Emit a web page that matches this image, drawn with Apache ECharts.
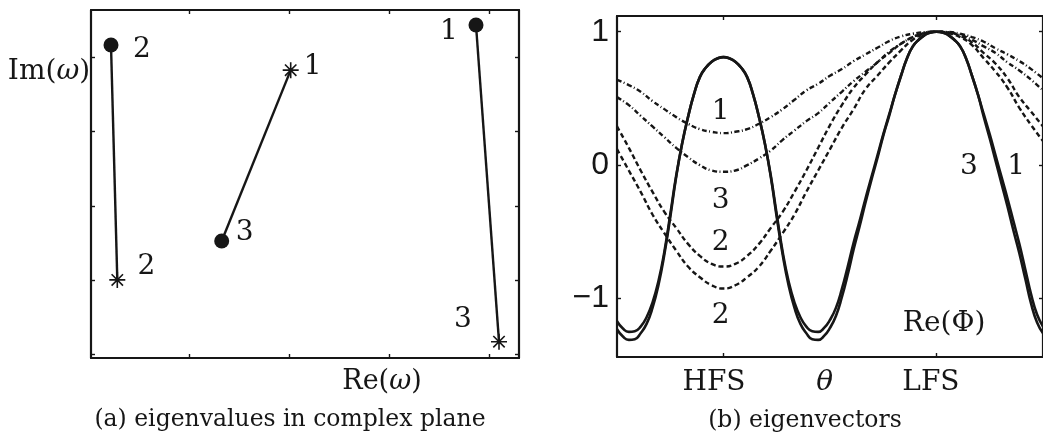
<!DOCTYPE html>
<html>
<head>
<meta charset="utf-8">
<script src="https://cdn.jsdelivr.net/npm/echarts@6/dist/echarts.min.js"></script>
<style>
html, body { margin: 0; padding: 0; background: #fff; }
#chart { width: 1043px; height: 435px; }
</style>
</head>
<body>
<div id="chart"></div>
<script>
// (a) eigenvalues in the complex plane
const circleRe = [3.87, 0.22, 1.327];
const circleIm = [4.44, 4.17, 1.525];
const starRe = [2.017, 0.283, 4.10];
const starIm = [3.83, 1.0, 0.166];
const circleNames = ['1', '2', '3'];
const starNames = ['1', '2', '3'];
const pairStar = [2, 1, 0];          // circle i is joined to star pairStar[i]
const reTicks = [1, 2, 3, 4];
const imTicks = [0, 1, 2, 3, 4];

// (b) eigenvectors, theta in degrees (LFS = 0, HFS = -180)
const theta = [-270, -260, -250, -240, -230, -220, -210, -200, -190, -180,
  -170, -160, -150, -140, -130, -120, -110, -100, -90, -80,
  -70, -60, -50, -40, -30, -20, -10, 0, 10, 20,
  30, 40, 50, 60, 70, 80, 90];
const thetaFine = [-270, -265, -260, -255, -250, -245, -240, -235, -230, -225,
  -220, -215, -210, -205, -200, -195, -190, -185, -180, -175,
  -170, -165, -160, -155, -150, -145, -140, -135, -130, -125,
  -120, -115, -110, -105, -100, -95, -90, -85, -80, -75,
  -70, -65, -60, -55, -50, -45, -40, -35, -30, -25,
  -20, -15, -10, -5, 0, 5, 10, 15, 20, 25,
  30, 35, 40, 45, 50, 55, 60, 65, 70, 75,
  80, 85, 90];
const solidInner = [-1.17, -1.225, -1.25, -1.245, -1.21, -1.14, -1.03, -0.87, -0.65, -0.37,
  -0.08, 0.16, 0.36, 0.53, 0.66, 0.73, 0.775, 0.80, 0.81, 0.80,
  0.775, 0.73, 0.66, 0.53, 0.36, 0.16, -0.08, -0.37, -0.65, -0.87,
  -1.03, -1.14, -1.21, -1.245, -1.25, -1.22, -1.16, -1.07, -0.93, -0.76,
  -0.58, -0.42, -0.25, -0.09, 0.07, 0.23, 0.38, 0.53, 0.67, 0.80,
  0.89, 0.94, 0.975, 0.995, 1.0, 0.995, 0.975, 0.94, 0.89, 0.80,
  0.67, 0.53, 0.38, 0.23, 0.07, -0.09, -0.25, -0.42, -0.59, -0.78,
  -0.97, -1.12, -1.21];
const solidOuter = [-1.23, -1.285, -1.31, -1.305, -1.26, -1.19, -1.07, -0.90, -0.67, -0.39,
  -0.09, 0.16, 0.36, 0.53, 0.66, 0.73, 0.775, 0.80, 0.81, 0.80,
  0.775, 0.73, 0.66, 0.53, 0.36, 0.16, -0.09, -0.39, -0.67, -0.90,
  -1.07, -1.19, -1.26, -1.305, -1.31, -1.28, -1.22, -1.13, -0.99, -0.82,
  -0.63, -0.46, -0.28, -0.11, 0.05, 0.22, 0.37, 0.53, 0.67, 0.80,
  0.89, 0.94, 0.975, 0.995, 1.0, 0.995, 0.975, 0.94, 0.89, 0.80,
  0.67, 0.53, 0.36, 0.20, 0.03, -0.14, -0.31, -0.49, -0.66, -0.85,
  -1.04, -1.18, -1.26];
const mode1 = [0.64, 0.60, 0.55, 0.48, 0.42, 0.36, 0.31, 0.27, 0.25, 0.24,
  0.25, 0.27, 0.31, 0.36, 0.42, 0.49, 0.56, 0.61, 0.67, 0.72,
  0.78, 0.83, 0.88, 0.93, 0.965, 0.985, 0.997, 1.0, 0.998, 0.985,
  0.96, 0.925, 0.875, 0.83, 0.78, 0.72, 0.65];
const mode3 = [0.51, 0.45, 0.37, 0.29, 0.21, 0.13, 0.06, 0.0, -0.04, -0.05,
  -0.04, 0.0, 0.05, 0.11, 0.19, 0.26, 0.33, 0.39, 0.47, 0.55,
  0.63, 0.70, 0.77, 0.85, 0.91, 0.96, 0.99, 1.0, 0.995, 0.975,
  0.94, 0.89, 0.84, 0.77, 0.71, 0.64, 0.56];
const mode2a = [0.29, 0.13, -0.04, -0.20, -0.35, -0.47, -0.59, -0.68, -0.74, -0.76,
  -0.74, -0.68, -0.59, -0.47, -0.35, -0.20, -0.04, 0.13, 0.30, 0.45,
  0.58, 0.68, 0.77, 0.84, 0.91, 0.96, 0.99, 1.0, 0.995, 0.97,
  0.92, 0.84, 0.76, 0.65, 0.51, 0.40, 0.29];
const mode2b = [0.12, -0.04, -0.20, -0.37, -0.51, -0.64, -0.76, -0.84, -0.90, -0.925,
  -0.90, -0.84, -0.76, -0.64, -0.51, -0.37, -0.20, -0.04, 0.12, 0.28,
  0.42, 0.57, 0.67, 0.77, 0.86, 0.94, 0.985, 1.0, 0.99, 0.96,
  0.90, 0.80, 0.70, 0.58, 0.43, 0.30, 0.18];
const phiTicks = [-1, 0, 1];
const thetaTicks = [-180, 0];
const thetaLabelPos = [-188, -94.5, -4.7];
const thetaLabelText = ['HFS', '{i|θ}', 'LFS'];
// curve labels inside panel (b)
const noteTheta = [-182.5, -182.5, -182.5, -182.5, 27.4, 67.4, 6.4];
const noteValue = [0.40, -0.268, -0.58, -1.125, -0.013, -0.013, -1.19];
const noteText = ['1', '3', '2', '2', '3', '1', 'Re(Φ)'];

const INK = '#161616';
const SERIF = 'DejaVu Serif';
const asterisk = 'path://M0 8L16 8M8 0L8 16M2.3 2.3L13.7 13.7M2.3 13.7L13.7 2.3';

function frameAxis(gridIndex, position, min, max, ticks, extra) {
    return Object.assign({
        type: 'value',
        gridIndex: gridIndex,
        position: position,
        min: min,
        max: max,
        axisLine: { show: true, onZero: false, lineStyle: { color: INK, width: 2.2 } },
        axisTick: { show: true, inside: true, length: 4, customValues: ticks, lineStyle: { color: INK, width: 1.4 } },
        axisLabel: { show: false, customValues: ticks },
        splitLine: { show: false }
    }, extra || {});
}

const chart = echarts.init(document.getElementById('chart'));

// panel (a) series: one segment per mode pair
const eigSeries = circleRe.map((re, i) => {
    const j = pairStar[i];
    const circleOffsets = [[-27, 7], [31, 5], [23, -8]];
    const starOffsets = [[22, -3], [29, -13], [-36, -22]];
    return {
        type: 'line',
        xAxisIndex: 0,
        yAxisIndex: 0,
        lineStyle: { color: INK, width: 2.4 },
        silent: true,
        z: 3,
        data: [
            {
                value: [re, circleIm[i]],
                symbol: 'circle',
                symbolSize: 15,
                itemStyle: { color: INK },
                label: { show: true, position: 'inside', offset: circleOffsets[i], formatter: circleNames[i], fontFamily: SERIF, fontSize: 28, color: INK }
            },
            {
                value: [starRe[j], starIm[j]],
                symbol: asterisk,
                symbolSize: 16,
                itemStyle: { color: 'none', borderColor: INK, borderWidth: 1.6 },
                label: { show: true, position: 'inside', offset: starOffsets[j], formatter: starNames[j], fontFamily: SERIF, fontSize: 28, color: INK }
            }
        ]
    };
});

function curve(xs, values, type, width) {
    return {
        type: 'line',
        xAxisIndex: 2,
        yAxisIndex: 2,
        smooth: true,
        showSymbol: false,
        silent: true,
        lineStyle: { color: INK, width: width, type: type },
        data: xs.map((t, i) => [t, values[i]])
    };
}

const dashDot = [5, 2.5, 1, 2.5];
const dashed = [5, 3];

const option = {
    backgroundColor: '#fff',
    animation: false,
    grid: [
        { left: 91, top: 10, width: 428, height: 348 },
        { left: 617, top: 16, width: 430, height: 341 }
    ],
    xAxis: [
        frameAxis(0, 'bottom', 0.02, 4.30, reTicks),
        frameAxis(0, 'top', 0.02, 4.30, reTicks),
        frameAxis(1, 'bottom', -270, 90, thetaTicks, {
            axisLabel: {
                show: true,
                customValues: thetaLabelPos,
                margin: 12,
                fontFamily: SERIF,
                fontSize: 28,
                color: INK,
                formatter: v => {
                    let k = 0;
                    thetaLabelPos.forEach((p, i) => { if (Math.abs(p - v) < Math.abs(thetaLabelPos[k] - v)) k = i; });
                    return thetaLabelText[k];
                },
                rich: { i: { fontFamily: SERIF, fontSize: 28, fontStyle: 'italic', color: INK } }
            }
        }),
        frameAxis(1, 'top', -270, 90, thetaTicks)
    ],
    yAxis: [
        frameAxis(0, 'left', -0.054, 4.642, imTicks),
        frameAxis(0, 'right', -0.054, 4.642, imTicks),
        frameAxis(1, 'left', -1.438, 1.118, phiTicks, {
            axisLabel: {
                show: true,
                customValues: phiTicks,
                margin: 8,
                fontFamily: 'Liberation Sans',
                fontSize: 32,
                color: INK,
                formatter: v => (v < 0 ? '\u2212' + (-v) : String(v))
            }
        }),
        frameAxis(1, 'right', -1.438, 1.118, phiTicks)
    ],
    series: eigSeries.concat([
        curve(theta, mode1, dashDot, 2.4),
        curve(theta, mode3, dashDot, 2.4),
        curve(theta, mode2a, dashed, 2.4),
        curve(theta, mode2b, dashed, 2.4),
        curve(thetaFine, solidInner, 'solid', 2.6),
        curve(thetaFine, solidOuter, 'solid', 2.6),
        {
            type: 'scatter',
            xAxisIndex: 2,
            yAxisIndex: 2,
            symbolSize: 1,
            silent: true,
            itemStyle: { color: 'rgba(0,0,0,0)', opacity: 1 },
            label: { show: true, position: 'inside', formatter: '{b}', fontFamily: SERIF, fontSize: 28, color: INK, opacity: 1, textBorderWidth: 0 },
            data: noteTheta.map((t, i) => ({ name: noteText[i], value: [t, noteValue[i]] }))
        }
    ]),
    graphic: [
        {
            type: 'text', x: 49, y: 72,
            style: {
                text: 'Im({i|ω})', fontFamily: SERIF, fontSize: 28, fill: INK,
                align: 'center', verticalAlign: 'middle',
                rich: { i: { fontFamily: SERIF, fontSize: 28, fontStyle: 'italic', fill: INK } }
            }
        },
        {
            type: 'text', x: 382, y: 382,
            style: {
                text: 'Re({i|ω})', fontFamily: SERIF, fontSize: 27, fill: INK,
                align: 'center', verticalAlign: 'middle',
                rich: { i: { fontFamily: SERIF, fontSize: 27, fontStyle: 'italic', fill: INK } }
            }
        },
        {
            type: 'text', x: 290, y: 420,
            style: { text: '(a) eigenvalues in complex plane', fontFamily: SERIF, fontSize: 23.5, fill: INK, align: 'center', verticalAlign: 'middle' }
        },
        {
            type: 'text', x: 805, y: 421,
            style: { text: '(b) eigenvectors', fontFamily: SERIF, fontSize: 23.5, fill: INK, align: 'center', verticalAlign: 'middle' }
        }
    ]
};

chart.setOption(option);
</script>
</body>
</html>
